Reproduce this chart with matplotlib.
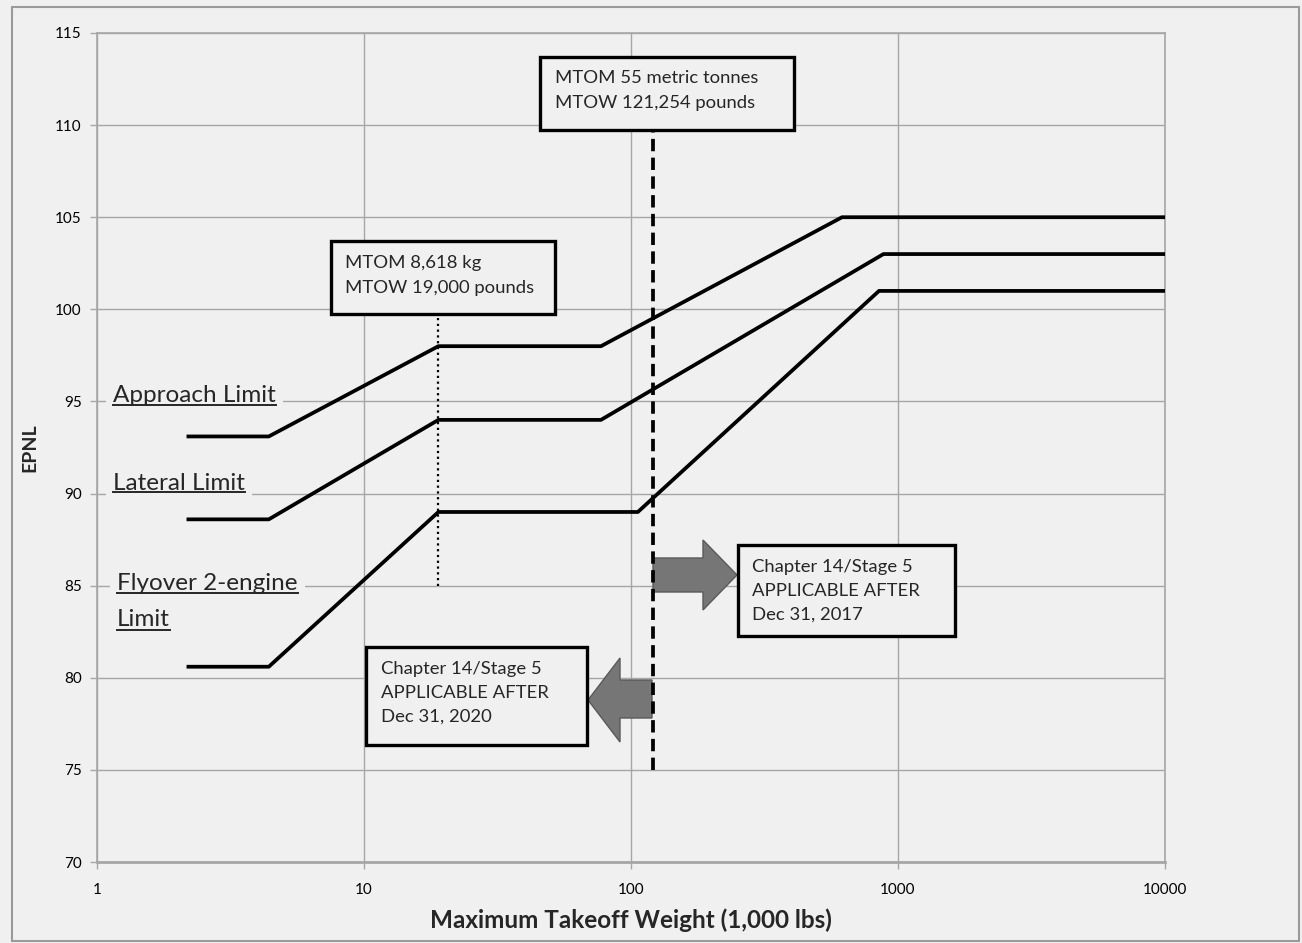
import matplotlib.pyplot as plt
from matplotlib.patches import Rectangle, Polygon
from matplotlib.lines import Line2D

plt.rcParams['font.family'] = ['Lato', 'DejaVu Sans']

# Noise limits (EPNL) vs maximum takeoff weight (1,000 lbs)
approach_w = [2.2, 4.4, 19, 77.2, 617, 10000]
approach_db = [93.1, 93.1, 98, 98, 105, 105]
lateral_w = [2.2, 4.4, 19, 77.2, 882, 10000]
lateral_db = [88.6, 88.6, 94, 94, 103, 103]
flyover_w = [2.2, 4.4, 19, 106.1, 849, 10000]
flyover_db = [80.6, 80.6, 89, 89, 101, 101]

# weight markers
light_w = 19
light_db = [85, 99.6]
mid_w = 121.254
mid_db = [75, 109.7]

xticks = [1, 10, 100, 1000, 10000]
yticks = [70, 75, 80, 85, 90, 95, 100, 105, 110, 115]

bg = '#f0f0f0'
grid = '#a6a6a6'
ink = '#262626'

fig = plt.figure(figsize=(13.02, 9.43), dpi=100, facecolor=bg)
ax = fig.add_axes([97/1302, 1 - 862/943, 1068/1302, 829/943])
ax.set_facecolor(bg)


def px(x, y):
    # pixel position in the picture -> axes fraction
    return ((x - 97) / 1068, (862 - y) / 829)


ax.set_xscale('log')
ax.set_xlim(1, 10000)
ax.set_ylim(70, 115)
ax.set_xticks(xticks)
ax.set_xticklabels([str(t) for t in xticks])
ax.set_yticks(yticks)
ax.minorticks_off()
ax.tick_params(axis='both', labelsize=11, color=grid, length=5, width=1)
ax.tick_params(axis='x', pad=10)
ax.tick_params(axis='y', pad=6)
ax.grid(True, color=grid, linewidth=1)
ax.set_axisbelow(True)
for s in ax.spines.values():
    s.set_color(grid)
    s.set_linewidth(1.2)
ax.spines['bottom'].set_linewidth(2)

ax.set_xlabel('Maximum Takeoff Weight (1,000 lbs)', fontsize=17.5, fontweight='bold', labelpad=8,
              color=ink)
ax.set_ylabel('EPNL', fontsize=14, fontweight='bold', labelpad=12, color=ink)

lw = 2.7
ax.plot(approach_w, approach_db, color='black', lw=lw, zorder=4)
ax.plot(lateral_w, lateral_db, color='black', lw=lw, zorder=4)
ax.plot(flyover_w, flyover_db, color='black', lw=lw, zorder=4)

ax.plot([light_w, light_w], light_db, color='black', lw=1.6, ls=(0, (1, 1.6)), zorder=3)

# arrows
arr_r = [(653, 558), (703, 558), (703, 540), (737, 575), (703, 610), (703, 592), (653, 592)]
arr_l = [(652, 680), (620, 680), (620, 658), (588, 700), (620, 742), (620, 718), (652, 718)]
for pts in (arr_r, arr_l):
    ax.add_patch(Polygon([px(*p) for p in pts], closed=True, transform=ax.transAxes,
                         facecolor='#767676', edgecolor='#5a5a5a', lw=1, zorder=5))

ax.plot([mid_w, mid_w], mid_db, color='black', lw=2.7, ls=(0, (3.3, 1.7)), zorder=6)

# text boxes: (box edges), (text left, text middle), text
boxes = [
    ((540, 57, 794, 130), (555, 90.5), 'MTOM 55 metric tonnes\nMTOW 121,254 pounds'),
    ((331, 241, 555, 314), (345, 275.5), 'MTOM 8,618 kg\nMTOW 19,000 pounds'),
    ((738, 545, 955, 636), (752, 591), 'Chapter 14/Stage 5\nAPPLICABLE AFTER\nDec 31, 2017'),
    ((366, 647, 587, 745), (381, 693), 'Chapter 14/Stage 5\nAPPLICABLE AFTER\nDec 31, 2020'),
]
for (x0, y0, x1, y1), (tx, ty), txt in boxes:
    bx, by = px(x0, y1)
    ax.add_patch(Rectangle((bx, by), (x1 - x0) / 1068, (y1 - y0) / 829, transform=ax.transAxes,
                           facecolor=bg, edgecolor='black', lw=2.4, zorder=7))
    tx, ty = px(tx, ty)
    ax.text(tx, ty, txt, transform=ax.transAxes, ha='left', va='center', fontsize=13.3,
            color=ink, linespacing=1.62, zorder=8, clip_on=False)

# underlined curve labels
labels = [
    ('Approach Limit', (113, 396)),
    ('Lateral Limit', (113, 483)),
    ('Flyover 2-engine', (117, 583)),
    ('Limit', (117, 620)),
]
texts = []
for txt, (x, y) in labels:
    t = ax.text(*px(x, y), txt, transform=ax.transAxes, ha='left', va='center', fontsize=17.5,
                color=ink, zorder=8,
                bbox=dict(facecolor=bg, edgecolor='none', pad=5))
    texts.append(t)

# outer border
fig.patches.append(Rectangle((12 / 1302, 1 - 941 / 943), 1287 / 1302, 934 / 943,
                             transform=fig.transFigure, fill=False, edgecolor='#9a9a9a', lw=1.5))

fig.canvas.draw()
r = fig.canvas.get_renderer()
inv = fig.transFigure.inverted()
for t in texts:
    bb = t.get_window_extent(r)
    (x0, y0), (x1, _) = inv.transform([(bb.x0, bb.y0 + 1), (bb.x1, bb.y0)])
    fig.lines.append(Line2D([x0, x1], [y0, y0], transform=fig.transFigure, color=ink, lw=1.4))

fig.savefig('out.png', dpi=100, facecolor=bg)
